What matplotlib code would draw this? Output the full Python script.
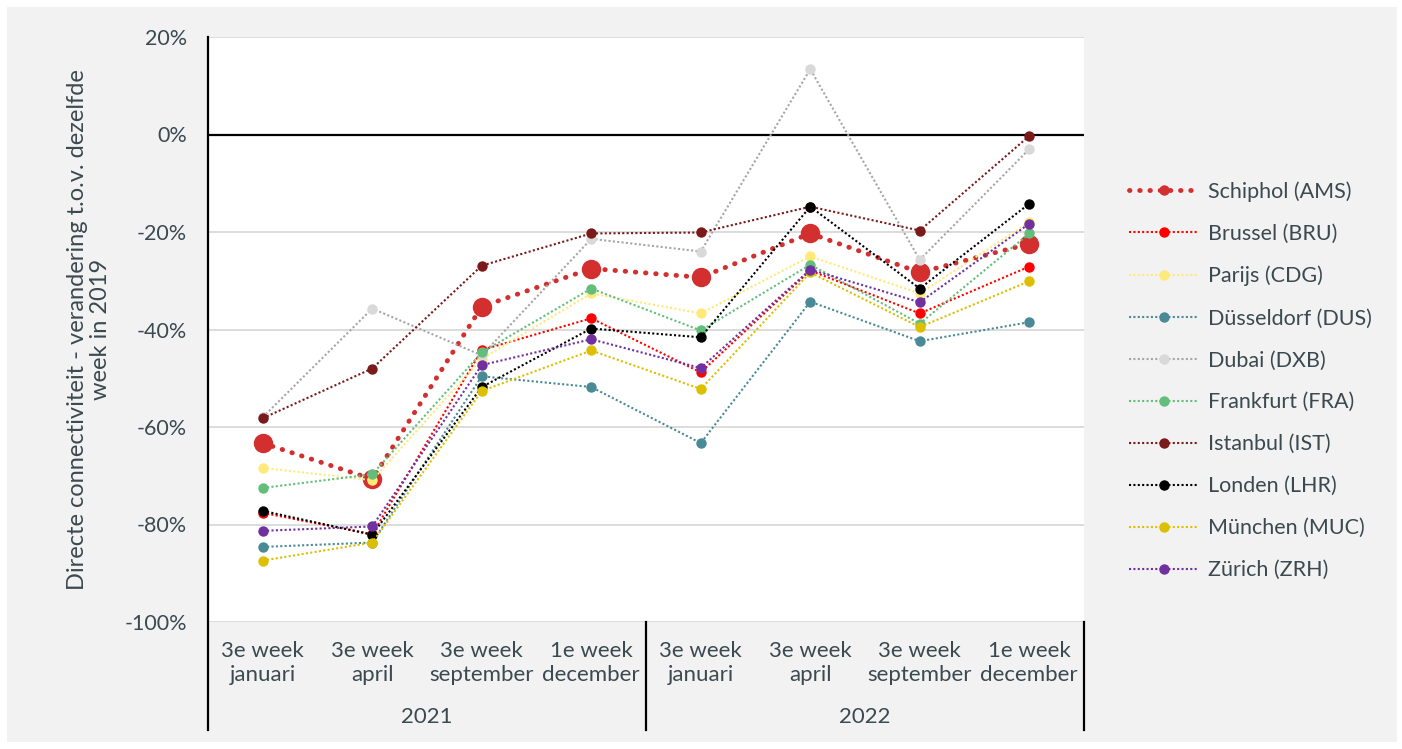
import matplotlib.pyplot as plt
from matplotlib.patches import Rectangle
from matplotlib.transforms import blended_transform_factory

# periods on the x axis
weeks = ['3e week\njanuari', '3e week\napril', '3e week\nseptember', '1e week\ndecember',
         '3e week\njanuari', '3e week\napril', '3e week\nseptember', '1e week\ndecember']
years = ['2021', '2022']

# change in direct connectivity vs same week in 2019 (%)
ams = [-63.3, -70.7, -35.3, -27.5, -29.3, -20.3, -28.3, -22.4]
bru = [-77.6, -82.0, -44.2, -37.7, -48.8, -27.9, -36.7, -27.1]
cdg = [-68.4, -70.9, -46.0, -32.6, -36.7, -25.0, -32.6, -18.0]
dus = [-84.6, -83.7, -49.6, -51.8, -63.3, -34.3, -42.4, -38.5]
dxb = [-58.0, -35.7, -45.3, -21.4, -24.0, 13.4, -25.7, -3.0]
fra = [-72.5, -69.7, -44.7, -31.6, -40.2, -26.7, -38.8, -20.3]
ist = [-58.2, -48.0, -26.9, -20.3, -20.1, -14.8, -19.7, -0.3]
lhr = [-77.2, -82.1, -51.8, -39.8, -41.6, -14.8, -31.6, -14.2]
muc = [-87.4, -83.7, -52.6, -44.3, -52.2, -28.3, -39.5, -30.1]
zrh = [-81.3, -80.4, -47.3, -42.0, -47.9, -27.7, -34.4, -18.3]

names = ['Schiphol (AMS)', 'Brussel (BRU)', 'Parijs (CDG)', 'Düsseldorf (DUS)', 'Dubai (DXB)',
         'Frankfurt (FRA)', 'Istanbul (IST)', 'Londen (LHR)', 'München (MUC)', 'Zürich (ZRH)']
series = [ams, bru, cdg, dus, dxb, fra, ist, lhr, muc, zrh]
marker_colors = ['#d32f2f', '#ff0000', '#ffe979', '#4a8a96', '#d9d9d9',
                 '#63be7b', '#7b1a1a', '#000000', '#dcc000', '#7030a0']
line_colors = ['#d32f2f', '#ff0000', '#ffe979', '#4a8a96', '#a6a6a6',
               '#63be7b', '#7b1a1a', '#000000', '#dcc000', '#7030a0']

txt = '#3b4a50'
plt.rcParams['font.family'] = ['Lato', 'DejaVu Sans']

fig = plt.figure(figsize=(14.02, 7.49), dpi=100, facecolor='white')
fig.patches.append(Rectangle((7/1402, 7/749), 1390/1402, 735/749, transform=fig.transFigure,
                             facecolor='#f2f2f2', edgecolor='none', zorder=-10))
ax = fig.add_axes([208/1402, 1-622/749, 876/1402, 585/749])
ax.set_facecolor('white')

x = list(range(len(weeks)))
for i, (name, vals) in enumerate(zip(names, series)):
    if i == 0:
        ax.plot(x, vals, color=line_colors[i], lw=3.5, linestyle=(0, (0.1, 2.0)),
                dash_capstyle='round', marker='o', ms=14, mfc=marker_colors[i],
                mec=marker_colors[i], mew=0, label=name, zorder=3)
    else:
        ax.plot(x, vals, color=line_colors[i], lw=1.5, linestyle=(0, (1, 1.1)),
                marker='o', ms=7.5, mfc=marker_colors[i], mec=marker_colors[i], mew=0,
                label=name, zorder=3 + i)

ax.set_xlim(-0.5, 7.5)
ax.set_ylim(-100, 20)
ax.set_yticks(range(-100, 21, 20))
ax.set_yticklabels([f'{v}%' for v in range(-100, 21, 20)])
ax.tick_params(axis='y', length=0, pad=15, labelsize=15.5, labelcolor=txt)
ax.set_xticks([])
for v in range(-100, 21, 20):
    if v != 0:
        ax.axhline(v, color='#d9d9d9', lw=1.3, zorder=1)
ax.axhline(0, color='black', lw=1.6, zorder=2)
for s in ['top', 'right', 'bottom', 'left']:
    ax.spines[s].set_visible(False)

# category axis below the plot
tr = blended_transform_factory(ax.transData, ax.transAxes)
ax.plot([-0.5, -0.5], [1.0, -0.184], color='black', lw=1.6, transform=tr, clip_on=False)
for xs in [3.5, 7.5]:
    ax.plot([xs, xs], [0.0, -0.184], color='black', lw=1.6, transform=tr, clip_on=False)
for i, w in enumerate(weeks):
    ax.text(i, -0.07, w, transform=tr, ha='center', va='center', fontsize=16,
            color=txt, linespacing=1.25)
for j, yr in enumerate(years):
    ax.text(1.5 + 4 * j, -0.163, yr, transform=tr, ha='center', va='center',
            fontsize=16, color=txt)

ax.set_ylabel('Directe connectiviteit - verandering t.o.v. dezelfde\nweek in 2019',
              fontsize=17, color=txt, labelpad=10, linespacing=1.1)

leg = fig.legend(loc='upper left', bbox_to_anchor=(1110/1402, 1-162/749), frameon=False,
                 fontsize=15.5, handlelength=3.25, labelspacing=1.02, handletextpad=0.42)
for t in leg.get_texts():
    t.set_color(txt)
for h in leg.legend_handles:
    h.set_markersize(7.5)

fig.savefig('out.png', dpi=100, facecolor=fig.get_facecolor())
